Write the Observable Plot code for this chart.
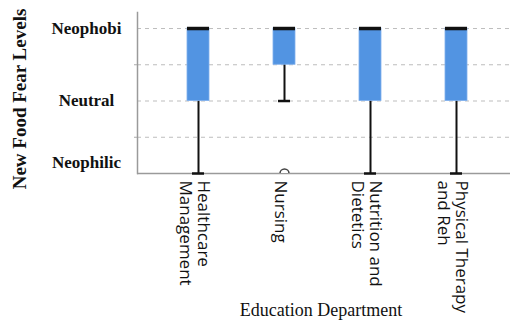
<!DOCTYPE html>
<html>
<head>
<meta charset="utf-8">
<script src="https://cdn.jsdelivr.net/npm/d3@7"></script>
<script src="https://cdn.jsdelivr.net/npm/@observablehq/plot@0.6"></script>
<style>
  html, body { margin: 0; padding: 0; background: #fff; }
  svg { display: block; }
</style>
</head>
<body>
<div id="chart"></div>
<script>
const categories = ["Healthcare Management", "Nursing", "Nutrition and Dietetics", "Physical Therapy and Reh"];
const tickLabels = ["Healthcare\nManagement", "Nursing", "Nutrition and\nDietetics", "Physical Therapy\nand Reh"];
const mins    = [1, 2, 1, 1];
const q1s     = [2, 2.5, 2, 2];
const medians = [3, 3, 3, 3];
const q3s     = [3, 3, 3, 3];
const maxs    = [3, 3, 3, 3];
const outlierCats = ["Nursing"];
const outlierVals = [1];
const yTickValues = [1, 2, 3];
const yTickLabels = ["Neophilic", "Neutral", "Neophobi"];
const gridValues = [1.5, 2, 2.5, 3];

const boxes = categories.map((c, i) => ({cat: c, min: mins[i], q1: q1s[i], median: medians[i], q3: q3s[i], max: maxs[i]}));
const outliers = outlierCats.map((c, i) => ({cat: c, value: outlierVals[i]}));
const labelOf = new Map(categories.map((c, i) => [c, tickLabels[i]]));
const yLabelOf = new Map(yTickValues.map((v, i) => [v, yTickLabels[i]]));

const yLabelStyle = {
  tickSize: 0, tickPadding: 51, textAnchor: "middle", label: null,
  tickFormat: d => yLabelOf.get(d),
  fontSize: 17, fontWeight: "bold", fontFamily: "Liberation Serif", fill: "#111"
};

const chart = Plot.plot({
  width: 510,
  height: 325,
  marginLeft: 137,
  marginRight: 0,
  marginTop: 12,
  marginBottom: 152,
  x: {type: "band", domain: categories, paddingInner: 0.744, paddingOuter: 0.54, align: 0.538},
  y: {domain: [1, 3.221]},
  marks: [
    Plot.ruleY(gridValues, {stroke: "#bdbdbd", strokeDasharray: "4,4"}),
    Plot.ruleY([1], {stroke: "#9a9a9a", strokeWidth: 1.5}),
    Plot.frame({anchor: "left", stroke: "#9a9a9a", strokeWidth: 1.5}),
    Plot.ruleX(boxes, {x: "cat", y1: "min", y2: "max", stroke: "#111", strokeWidth: 2}),
    Plot.barY(boxes, {x: "cat", y1: "q1", y2: "q3", fill: "#5294e2", stroke: "#7fb0ee", strokeWidth: 0.8}),
    Plot.tickY(boxes, {x: "cat", y: "min", stroke: "#111", strokeWidth: 2.5, inset: 5}),
    Plot.tickY(boxes, {x: "cat", y: "median", stroke: "#111", strokeWidth: 3.5}),
    Plot.dot(outliers, {x: "cat", y: "value", r: 4.5, stroke: "#444", strokeWidth: 1.5, fill: "white", clip: true}),
    Plot.axisY([1.5, 2.5], {tickSize: 3, tickFormat: () => "", label: null, stroke: "#aaa"}),
    Plot.axisY([2, 3], yLabelStyle),
    Plot.axisY([1], {...yLabelStyle, dy: -11}),
    Plot.axisX({
      tickSize: 0, tickRotate: 90, tickPadding: 7, label: null,
      tickFormat: d => labelOf.get(d), dx: -4,
      fontSize: 17, fontFamily: "Open Sans", lineHeight: 1.06, fill: "#111"
    }),
    Plot.text(["New Food Fear Levels"], {
      frameAnchor: "left", textAnchor: "middle", dx: -118, dy: 6, rotate: -90,
      fontSize: 19, fontWeight: "bold", fontFamily: "Liberation Serif", fill: "#111"
    }),
    Plot.text(["Education Department"], {
      frameAnchor: "bottom", dx: -3, dy: 142,
      fontSize: 18, fontFamily: "Liberation Serif", fill: "#111"
    })
  ]
});
document.getElementById("chart").appendChild(chart);
</script>
</body>
</html>
